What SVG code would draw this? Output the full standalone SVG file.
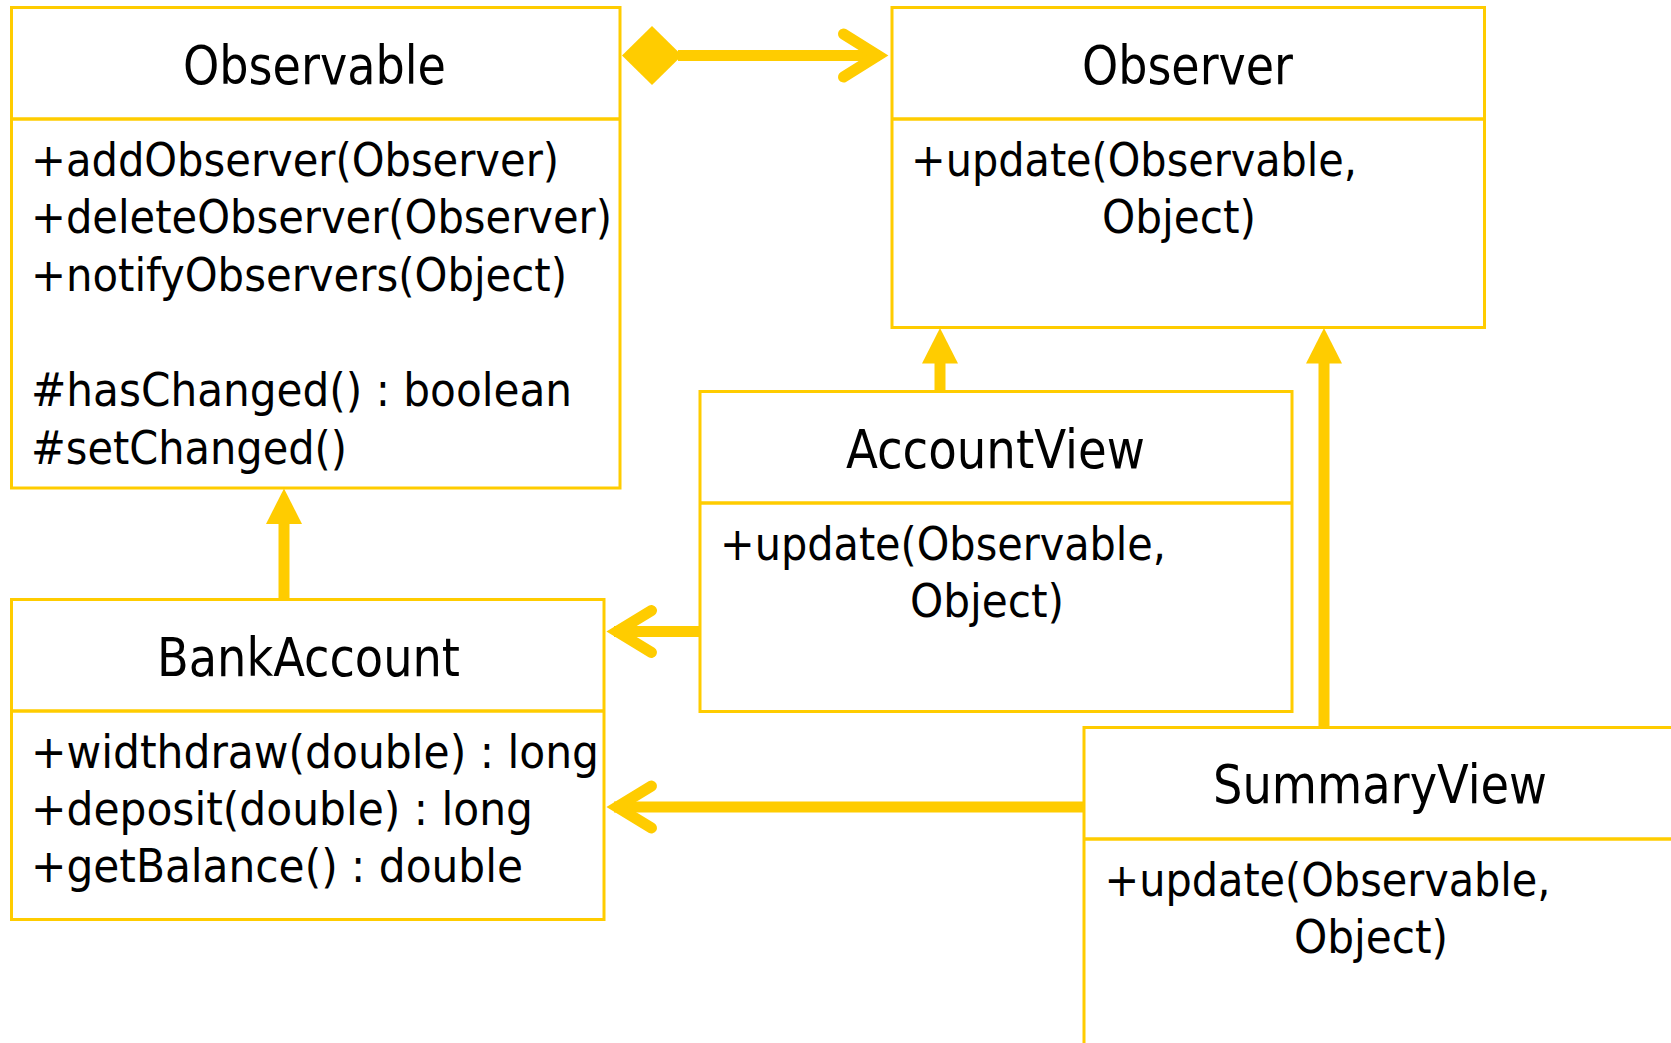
<svg xmlns="http://www.w3.org/2000/svg" width="1671" height="1043" viewBox="0 0 1671 1043">
<style>
.box{fill:#ffffff;stroke:#ffcc00;stroke-width:3}
.div{stroke:#ffcc00;stroke-width:3.5}
.t{font-family:"DejaVu Sans Condensed","DejaVu Sans",sans-serif;font-stretch:condensed;fill:#000000}
.title{font-size:53px;text-anchor:middle}
.m{font-size:47px}
.ln{stroke:#ffcc00;stroke-width:11;fill:none}
.arr{stroke:#ffcc00;stroke-width:11;fill:none;stroke-linecap:round;stroke-linejoin:miter;stroke-miterlimit:10}
.fill{fill:#ffcc00;stroke:none}
</style>
<rect x="0" y="0" width="1671" height="1043" fill="#ffffff"/>
<g id="Observable">
<rect class="box" x="11.5" y="7.5" width="608.5" height="480.5"/>
<line class="div" x1="11.5" y1="119" x2="620" y2="119"/>
<text class="t title" x="314.5" y="84" textLength="263" lengthAdjust="spacingAndGlyphs">Observable</text>
<text class="t m" x="31" y="175.7" textLength="528" lengthAdjust="spacingAndGlyphs">+addObserver(Observer)</text>
<text class="t m" x="31" y="233" textLength="581" lengthAdjust="spacingAndGlyphs">+deleteObserver(Observer)</text>
<text class="t m" x="31" y="290.5" textLength="536" lengthAdjust="spacingAndGlyphs">+notifyObservers(Object)</text>
<text class="t m" x="31" y="406" textLength="541" lengthAdjust="spacingAndGlyphs">#hasChanged() : boolean</text>
<text class="t m" x="31" y="463.5" textLength="316" lengthAdjust="spacingAndGlyphs">#setChanged()</text>
</g>
<g id="Observer">
<rect class="box" x="892" y="7.5" width="592.5" height="320"/>
<line class="div" x1="892" y1="119" x2="1484.5" y2="119"/>
<text class="t title" x="1187.5" y="84" textLength="211" lengthAdjust="spacingAndGlyphs">Observer</text>
<text class="t m" x="911" y="175.7" textLength="446" lengthAdjust="spacingAndGlyphs">+update(Observable,</text>
<text class="t m" x="1102" y="233" textLength="154" lengthAdjust="spacingAndGlyphs">Object)</text>
</g>
<g id="AccountView">
<rect class="box" x="700" y="391.5" width="592" height="320"/>
<line class="div" x1="700" y1="503" x2="1292" y2="503"/>
<text class="t title" x="995.4" y="468" textLength="299" lengthAdjust="spacingAndGlyphs">AccountView</text>
<text class="t m" x="720" y="560" textLength="446" lengthAdjust="spacingAndGlyphs">+update(Observable,</text>
<text class="t m" x="910" y="617" textLength="154" lengthAdjust="spacingAndGlyphs">Object)</text>
</g>
<g id="BankAccount">
<rect class="box" x="11.5" y="599.5" width="592.5" height="320"/>
<line class="div" x1="11.5" y1="711" x2="604" y2="711"/>
<text class="t title" x="308.5" y="676" textLength="303" lengthAdjust="spacingAndGlyphs">BankAccount</text>
<text class="t m" x="31" y="767.5" textLength="568" lengthAdjust="spacingAndGlyphs">+widthdraw(double) : long</text>
<text class="t m" x="31" y="824.5" textLength="502" lengthAdjust="spacingAndGlyphs">+deposit(double) : long</text>
<text class="t m" x="31" y="882" textLength="492" lengthAdjust="spacingAndGlyphs">+getBalance() : double</text>
</g>
<g id="SummaryView">
<rect class="box" x="1084" y="727.5" width="592" height="400"/>
<line class="div" x1="1084" y1="839" x2="1676" y2="839"/>
<text class="t title" x="1380" y="803" textLength="334" lengthAdjust="spacingAndGlyphs">SummaryView</text>
<text class="t m" x="1104.5" y="896" textLength="446" lengthAdjust="spacingAndGlyphs">+update(Observable,</text>
<text class="t m" x="1294" y="953" textLength="154" lengthAdjust="spacingAndGlyphs">Object)</text>
</g>
<g id="connectors">
<line class="ln" x1="678" y1="55.5" x2="880" y2="55.5"/>
<polygon class="fill" points="622,55.5 652,26 682,55.5 652,85"/>
<path class="arr" d="M843.5,34 L878,55.5 L843.5,77"/>
<line class="ln" x1="940" y1="391" x2="940" y2="362"/>
<polygon class="fill" points="940,328 922,363.5 958,363.5"/>
<line class="ln" x1="1324" y1="727" x2="1324" y2="362"/>
<polygon class="fill" points="1324,328 1306,363.5 1342,363.5"/>
<line class="ln" x1="284" y1="599" x2="284" y2="523"/>
<polygon class="fill" points="284,488.5 266,524 302,524"/>
<line class="ln" x1="699" y1="631.5" x2="614" y2="631.5"/>
<path class="arr" d="M651.5,610.5 L617,631.5 L651.5,652.5"/>
<line class="ln" x1="1083" y1="807" x2="614" y2="807"/>
<path class="arr" d="M651.5,786 L617,807 L651.5,828"/>
</g>
</svg>
